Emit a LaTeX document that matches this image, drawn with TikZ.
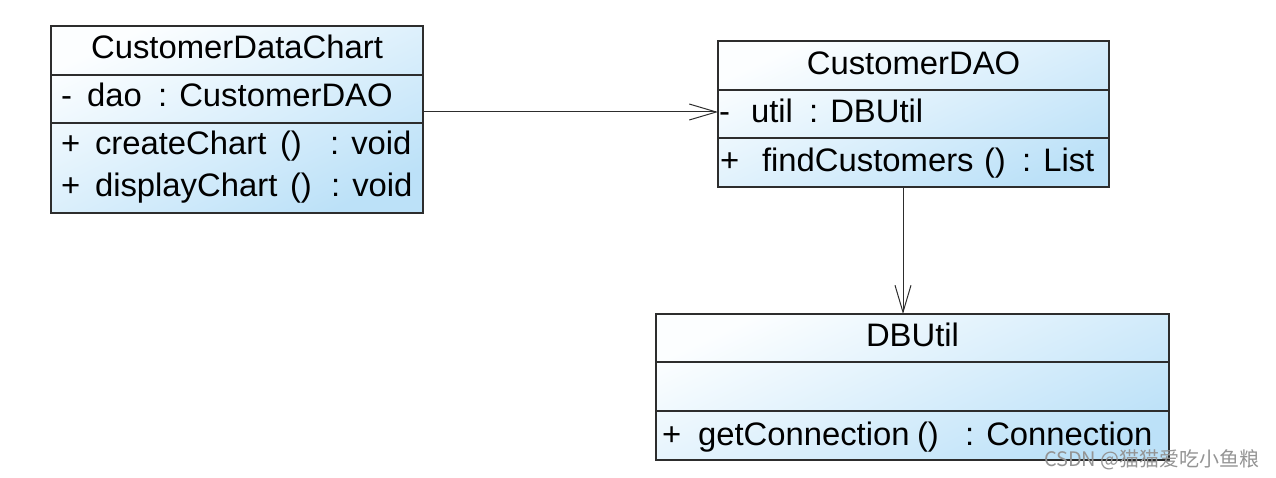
\documentclass[tikz,border=0pt]{standalone}
\usepackage{fontspec}
\setmainfont[FakeStretch=1.01]{Liberation Sans}
\newfontfamily\cjk{Noto Sans CJK SC}
\usetikzlibrary{arrows.meta}
\definecolor{ublue}{RGB}{188,225,248}
\definecolor{uwhite}{RGB}{252,254,255}
\definecolor{uline}{RGB}{45,45,45}
\tikzset{
  classbox/.style={draw=uline, line width=1.2bp, inner sep=0pt, outer sep=0pt,
    top color=uwhite, bottom color=ublue, shading angle=25},
  sep/.style={draw=uline, line width=1.1bp},
  txt/.style={anchor=base west, inner sep=0pt, outer sep=0pt, font=\fontsize{32.5bp}{38bp}\selectfont, text=black},
  ttl/.style={txt, anchor=base},
  dep/.style={draw=uline, line width=1bp, -{Straight Barb[length=27bp, width=16bp, line width=1bp]}},
  wmark/.style={anchor=base east, inner sep=0pt, font=\cjk\fontsize{20bp}{20bp}\selectfont, text=black!42}
}
\begin{document}
\begin{tikzpicture}[x=1bp, y=-1bp]
\useasboundingbox (0,0) rectangle (1276,478);
% class boxes
\node[classbox, minimum width=372bp, minimum height=187bp] (cdc) at (237,119.5) {};
\node[classbox, minimum width=391bp, minimum height=146bp] (dao) at (913.5,114) {};
\node[classbox, minimum width=513bp, minimum height=146bp] (dbu) at (912.5,387) {};
% compartment separators
\coordinate (c1) at (0,75);  \coordinate (c2) at (0,123);
\coordinate (d1) at (0,90);  \coordinate (d2) at (0,138);
\coordinate (u1) at (0,362); \coordinate (u2) at (0,411);
\draw[sep] (cdc.west |- c1) -- (cdc.east |- c1);
\draw[sep] (cdc.west |- c2) -- (cdc.east |- c2);
\draw[sep] (dao.west |- d1) -- (dao.east |- d1);
\draw[sep] (dao.west |- d2) -- (dao.east |- d2);
\draw[sep] (dbu.west |- u1) -- (dbu.east |- u1);
\draw[sep] (dbu.west |- u2) -- (dbu.east |- u2);
% CustomerDataChart
\node[ttl] (cdcT) at (237,59) {CustomerDataChart};
\node[txt] (cdcAv) at (61,107) {-};
\node[txt] (cdcA)  at (87,107) {dao};
\node[txt] (cdcAt) at (158,107) {: CustomerDAO};
\node[txt] (cdcO1v) at (61,155) {+};
\node[txt] (cdcO1)  at (95,155) {createChart};
\node[txt] (cdcO1p) at (280,155) {()};
\node[txt] (cdcO1t) at (330,155) {: void};
\node[txt] (cdcO2v) at (61,197) {+};
\node[txt] (cdcO2)  at (95,197) {displayChart};
\node[txt] (cdcO2p) at (290,197) {()};
\node[txt] (cdcO2t) at (331,197) {: void};
% CustomerDAO
\node[ttl] (daoT) at (913.5,75) {CustomerDAO};
\node[txt] (daoAv) at (719,123) {-};
\node[txt] (daoA)  at (751,123) {util};
\node[txt] (daoAt) at (809,123) {: DBUtil};
\node[txt] (daoOv) at (720,172) {+};
\node[txt] (daoO)  at (762,172) {findCustomers};
\node[txt] (daoOp) at (984,172) {()};
\node[txt] (daoOt) at (1022,172) {: List};
% DBUtil
\node[ttl] (dbuT) at (912.5,347) {DBUtil};
\node[txt] (dbuOv) at (662,445) {+};
\node[txt] (dbuO)  at (698,445) {getConnection};
\node[txt] (dbuOp) at (917,445) {()};
\node[txt] (dbuOt) at (965,445) {: Connection};
% connectors
\coordinate (h) at (0,112);
\coordinate (v) at (903,0);
\draw[dep] (cdc.east |- h) -- (dao.west |- h);
\draw[dep] (dao.south -| v) -- (dbu.north -| v);
% watermark
\node[wmark] (wm) at (1260,466) {CSDN @猫猫爱吃小鱼粮};
\end{tikzpicture}
\end{document}
